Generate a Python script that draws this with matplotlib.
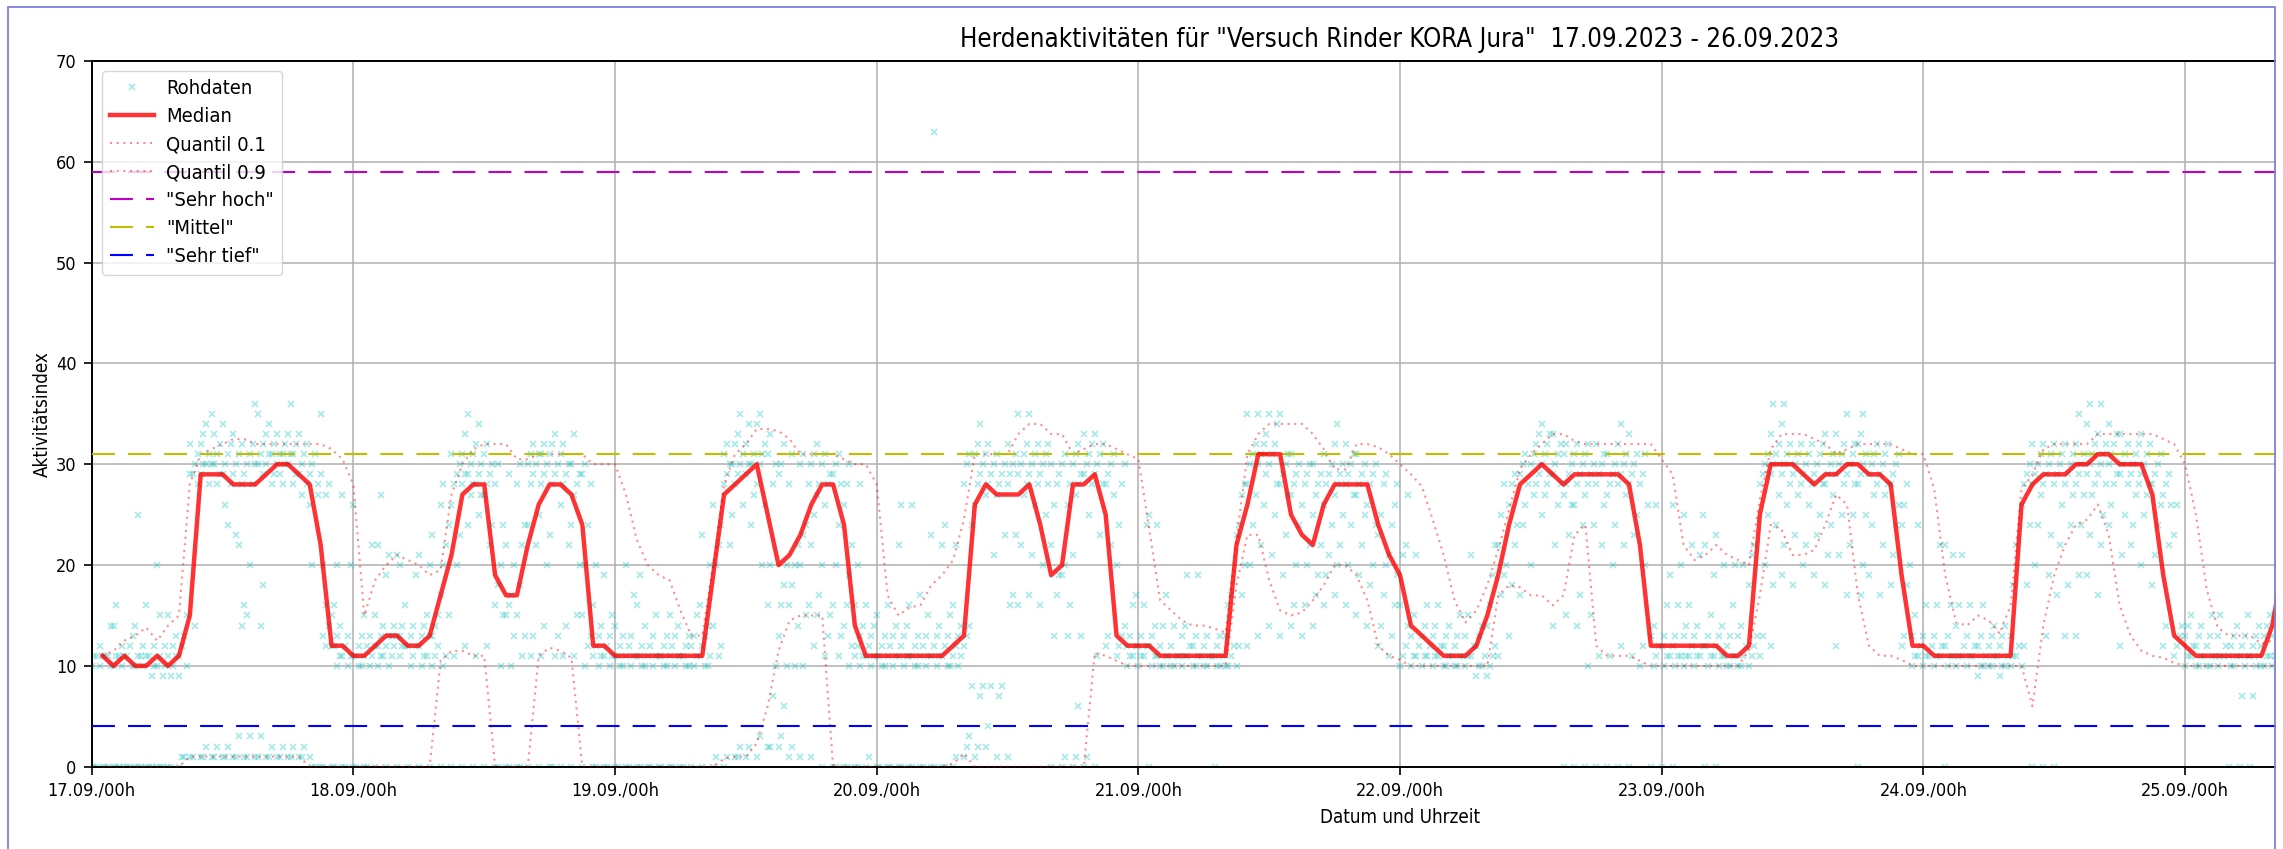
import numpy as np
import pandas as pd
import matplotlib
matplotlib.use("Agg")
import matplotlib.pyplot as plt
import matplotlib.dates as mdates
from matplotlib.patches import Rectangle

plt.rcParams['font.family'] = ['DejaVu Sans']
plt.rcParams['font.stretch'] = 'condensed'
plt.rcParams['font.size'] = 13.5

start = pd.Timestamp('2023-09-17 00:00')
title = 'Herdenaktivitäten für "Versuch Rinder KORA Jura"  17.09.2023 - 26.09.2023'

# hourly values, index = hours since 17.09. 00h
median = [np.nan,
          11, 10, 11, 10, 10, 11, 10, 11, 15, 29,
          29, 29, 28, 28, 28, 29, 30, 30, 29, 28,
          22, 12, 12, 11, 11, 12, 13, 13, 12, 12,
          13, 17, 21, 27, 28, 28, 19, 17, 17, 22,
          26, 28, 28, 27, 24, 12, 12, 11, 11, 11,
          11, 11, 11, 11, 11, 11, 19, 27, 28, 29,
          30, 25, 20, 21, 23, 26, 28, 28, 24, 14,
          11, 11, 11, 11, 11, 11, 11, 11, 12, 13,
          26, 28, 27, 27, 27, 28, 24, 19, 20, 28,
          28, 29, 25, 13, 12, 12, 12, 11, 11, 11,
          11, 11, 11, 11, 22, 26, 31, 31, 31, 25,
          23, 22, 26, 28, 28, 28, 28, 24, 21, 19,
          14, 13, 12, 11, 11, 11, 12, 15, 19, 24,
          28, 29, 30, 29, 28, 29, 29, 29, 29, 29,
          28, 22, 12, 12, 12, 12, 12, 12, 12, 11,
          11, 12, 25, 30, 30, 30, 29, 28, 29, 29,
          30, 30, 29, 29, 28, 19, 12, 12, 11, 11,
          11, 11, 11, 11, 11, 11, 26, 28, 29, 29,
          29, 30, 30, 31, 31, 30, 30, 30, 27, 19,
          13, 12, 11, 11, 11, 11, 11, 11, 11, 14,
          20]

q10 = [np.nan,
       0, 0, 0, 0, 0, 0, 0, 0, 1, 1,
       1, 1, 1, 1, 1, 1, 1, 1, 1, 0,
       0, 0, 0, 0, 0, 0, 0, 0, 0, 0,
       0, 10.5, 11.5, 11.5, 11, 11, 0, 0, 0, 0,
       11, 11.8, 11.5, 10.8, 0, 0, 0, 0, 0, 0,
       0, 0, 0, 0, 0, 0, 0, 0.8, 1, 1,
       2.3, 6, 11.5, 14.5, 15, 15, 15, 0, 0, 0,
       0, 0, 0, 0, 0, 0, 0, 0, 0.3, 1.3,
       0, 0, 0, 0, 0, 0, 0, 0, 0, 0,
       0, 11.3, 11, 10.5, 10, 10, 10, 10, 10, 10,
       10, 10, 10, 10, 18, 23, 23, 18.5, 15.5, 15,
       15.3, 16.5, 18, 20, 20, 19, 16.5, 12, 11, 10.6,
       10, 10, 10, 10, 10, 10, 10, 10, 17, 18,
       17.8, 17, 17, 16, 17, 23, 24, 12, 11, 11,
       11, 10.5, 10, 10, 10, 10, 10, 10, 10, 10,
       10, 11.5, 17, 24, 23.5, 21, 21, 21.5, 24, 27,
       26, 17, 12, 11, 11, 10.6, 10, 10, 10, 10,
       10, 10, 10, 10, 10, 10, 10, 6, 14, 19,
       22, 24, 24.5, 26, 23, 16, 13, 11.5, 11, 10.8,
       10.3, 10, 10, 10, 10, 10, 10, 10, 10, 10,
       10]

q90 = [np.nan,
       11, 11.5, 12.5, 13, 13.8, 12.5, 14, 15, 28, 31,
       31.5, 32, 32.5, 32.5, 32, 32, 32, 32, 32, 32,
       32, 31.5, 30.5, 28, 15, 18.5, 20, 21, 20.5, 20,
       19, 19.5, 27, 30, 31.5, 32, 32, 32, 30.5, 30.5,
       31, 31, 31, 31, 31, 30, 30, 30, 27, 22.5,
       20, 19, 18.5, 15.5, 13, 13, 20, 28, 31, 32,
       33.5, 33.5, 33.3, 32.5, 31, 31, 31, 31, 30.5, 30,
       30, 28, 17, 15, 15.8, 16, 18, 19, 20.5, 24.5,
       31, 31, 31, 31, 33, 34, 34, 33, 33, 31,
       31.5, 32, 32, 31.5, 31, 30.5, 23.5, 16.5, 15.5, 14.5,
       14, 14, 13.7, 13.3, 22.5, 31, 33, 34, 34, 34,
       34, 33, 31.5, 29.5, 29.5, 32, 32, 31.7, 31, 30,
       29, 27.8, 24.5, 21, 16.5, 14.3, 15.5, 18, 21.5, 25.5,
       29.5, 31, 32, 33, 33, 32.3, 32, 32, 32, 32,
       32, 32, 32, 30.5, 29, 22, 20.5, 21, 22, 21,
       20.5, 20, 26.5, 31.5, 33, 33, 33, 32.5, 32, 31,
       31.5, 32, 32, 32, 32, 31.5, 31, 31, 27.5, 19,
       14.3, 14, 15, 14.5, 13.2, 16, 27.5, 29, 31.5, 32,
       32, 32, 32, 33, 33, 33, 33, 33, 33, 32.5,
       32, 30, 25, 17.5, 13.8, 13, 13, 13, 12.2, 12.5,
       13]

# raw readings of the herd, one string per hour
raw = [
    "0 0 0 10 10 11 11 12", "0 0 0 10 11 11 11 14", "0 0 0 10 10 11 11 12 14 16",
    "0 0 0 10 11 11 12 13", "0 0 0 10 10 11 11 12 14 25", "0 0 0 10 11 11 9 12 16",
    "0 0 0 10 10 11 9 12 20 15", "0 0 10 11 11 9 12 13 15", "0 1 1 10 11 12 13 15 9",
    "1 1 14 28 29 29 30 31 32", "1 1 2 28 29 30 30 31 32 33 34", "1 1 2 29 30 30 31 32 35 33 28",
    "1 1 2 28 29 30 31 32 34 26 24", "1 1 3 28 29 30 31 32 33 23 22 14", "1 1 3 28 29 30 31 32 16 15 20",
    "1 1 3 29 30 30 31 32 36 35 14 18", "1 1 2 29 30 31 31 32 33 34 28", "1 1 2 30 30 31 31 32 33 29 28",
    "1 1 2 29 30 31 31 32 33 36 28", "1 1 2 28 29 30 31 32 33 27", "1 0 0 28 29 30 31 27 26 20",
    "0 0 27 28 29 20 16 14 35 13 12", "0 0 10 11 12 12 13 14 15 16 20", "0 0 10 11 11 12 13 20 27",
    "0 0 10 10 11 11 12 13 26", "0 0 10 11 11 12 13 22 15", "0 10 11 11 12 12 13 14 15 22 27",
    "0 10 11 12 12 13 13 14 19 21", "0 11 12 12 13 13 14 16 21 20", "0 10 11 12 12 13 14 19",
    "0 10 11 11 12 13 14 15 21", "0 10 11 12 13 13 14 15 20 23", "0 10 11 15 17 20 22 24 26 28",
    "0 11 20 23 26 28 29 30 31", "0 12 24 27 28 29 29 30 31 33 35", "0 11 25 27 28 28 29 30 31 32 34",
    "0 12 22 24 27 28 29 30 31 32", "0 0 10 15 16 18 20 24 28 30", "0 0 10 13 15 16 17 20 22 29",
    "0 0 11 13 15 18 22 24 28 30",
    "0 11 13 22 24 28 29 30 30 31 32", "0 11 14 20 25 28 29 30 31 31 32", "0 0 11 13 23 28 29 30 31 32 33",
    "0 11 14 22 26 28 29 30 31 32", "0 11 15 20 24 27 28 29 30 33", "0 10 12 13 15 20 24 28 29 30",
    "0 0 10 11 11 12 13 14 16 20", "0 0 10 11 11 12 13 15 19", "0 0 10 10 11 11 12 13 14",
    "0 0 10 11 11 12 13 17 20", "0 0 10 10 11 11 12 14 16 19", "0 0 10 11 11 12 13 15",
    "0 0 10 10 11 11 12 13", "0 0 10 11 11 12 13 14 15", "0 0 10 10 11 11 12 13",
    "0 10 11 11 12 13 15 16", "0 10 10 11 12 13 14 20 23", "0 1 11 12 14 20 22 24 26",
    "0 1 22 25 28 29 30 30 31 32", "1 1 2 26 28 29 30 31 32 33 35", "1 2 24 27 29 30 30 31 32 34",
    "1 3 20 26 28 30 31 32 34 35", "2 2 7 10 16 20 28 30 31 33", "2 3 6 10 13 16 18 20 29 30 32",
    "1 2 10 14 16 18 20 22 28 31", "1 10 15 16 20 23 24 28 30 31", "1 12 15 17 22 25 27 28 30 31 32",
    "0 11 13 15 20 26 28 29 30 31", "0 0 11 13 16 20 24 28 29 30 31", "0 0 10 12 14 16 19 22 26 28 30",
    "0 0 10 11 11 12 13 14 16 20 28", "0 1 10 11 11 12 13 14 16", "0 0 10 10 11 11 12 13 15",
    "0 0 10 11 11 12 13 14 16", "0 0 10 11 11 12 13 14 22 26", "0 0 10 10 11 11 12 13 16 26",
    "0 0 10 11 11 12 13 15 17", "0 0 10 11 11 12 13 14 23 63", "0 0 10 10 11 12 13 15 22 24",
    "0 1 10 11 11 12 13 14 16 22",
    "1 2 3 8 12 13 14 24 28 30 31", "1 2 7 8 26 28 29 30 31 32 34", "2 4 8 21 27 28 29 30 31 32",
    "1 7 8 23 27 28 29 30 31", "1 16 17 23 28 29 30 31 32", "16 22 27 28 29 30 31 32 35",
    "17 21 26 28 29 30 31 32 35", "16 20 25 28 29 30 31 32", "0 13 17 19 22 26 28 29 30",
    "0 1 13 16 19 20 26 28 30 31", "0 1 6 13 21 27 28 29 30 31 32", "0 1 25 28 29 30 31 32 33",
    "0 11 23 28 29 30 31 32 33", "12 13 22 27 28 29 30 31", "11 12 13 14 20 24 28 30",
    "10 11 11 12 12 13 16 17", "10 11 11 12 12 13 16 24", "0 10 11 11 12 13 14 24 25",
    "10 10 11 11 12 14 17", "10 10 11 11 12 14", "10 11 11 12 13 14 19",
    "10 10 11 11 12 13 19", "10 10 11 11 12 13", "0 10 10 11 11 12 13",
    "10 10 11 12 13 16 17", "10 12 17 20 23 24 27 28", "12 20 24 27 28 30 31 32 35",
    "13 22 26 29 30 31 32 33 35", "14 21 25 28 30 31 32 34 35", "13 19 23 27 28 29 30 31 35",
    "14 16 20 24 27 28 29 30 31", "13 16 20 22 26 28 29 30", "14 17 19 22 25 27 28 29 30",
    "16 19 21 24 26 28 29 30 31", "17 20 22 25 27 28 29 30 32 34", "16 20 24 27 28 29 30 31 32",
    "15 19 22 25 27 28 29 30 31", "14 18 20 24 26 28 29 30", "12 14 17 20 23 25 28 29",
    "11 13 16 19 21 24 26 28",
    "10 11 12 14 16 21 22 27", "10 11 11 12 13 15 21", "10 11 11 12 13 14 16",
    "10 11 11 12 13 14 16", "10 10 11 11 12 13 14", "10 10 11 11 12 13 15",
    "10 11 11 12 13 15 21", "9 10 10 11 12 13 14", "9 10 11 12 14 16 19 22",
    "11 17 19 20 22 25 28", "13 18 22 24 26 28 29", "17 24 26 28 29 30 31",
    "20 27 28 29 30 31 32 33", "25 27 28 29 30 31 32 33 34", "14 22 26 28 29 30 31 32 33",
    "0 15 23 26 27 28 29 30 31 32", "0 14 17 24 26 28 29 30 31 32", "0 10 15 24 27 28 29 30 31 32",
    "0 11 22 26 28 29 30 31 32", "0 11 20 24 27 28 29 30 31", "0 12 22 27 28 29 30 31 32 34",
    "0 11 23 25 28 29 30 31 33", "10 12 20 26 28 29 31", "0 10 11 12 13 14 26",
    "0 10 11 11 12 13 16 19", "0 10 11 11 12 13 16 20 26", "10 11 11 12 13 14 16 22 25",
    "10 11 11 12 13 14 21 25", "0 10 11 11 12 13 15 19 22", "0 10 11 11 12 13 14 20 23",
    "10 10 11 11 12 13 16 20", "10 10 11 12 13 14 20", "10 11 12 13 18 21 22",
    "11 13 20 25 28 29 30 31", "12 18 24 27 29 30 31 32 33 36", "19 22 26 28 29 30 31 32 34 36",
    "18 23 27 28 29 30 31 32", "20 22 26 28 29 30 31 32", "19 23 25 28 29 30 31 32",
    "18 21 24 27 28 29 30 31 33",
    "12 21 25 28 29 30 31 32 33", "17 22 25 28 29 30 31 32 35", "0 17 20 25 28 29 30 31 32 33 35",
    "19 24 27 28 29 30 31 32", "17 22 27 28 29 30 31 32", "18 21 24 26 28 29 30 31",
    "12 13 18 20 24 26 28", "10 11 11 12 13 15 24", "10 11 11 12 13 16",
    "10 11 11 12 13 16 22", "0 10 11 11 12 13 16 21 22", "10 11 11 12 14 16 21",
    "10 11 11 12 13 16", "9 10 10 11 12 13 16", "10 10 11 11 12 13 14",
    "9 10 10 11 12 13 14", "10 11 11 12 13 18 22", "10 12 18 24 26 28 29 30",
    "0 20 24 27 28 29 30 31 32", "0 13 19 23 28 29 30 31 32", "0 17 22 26 28 29 30 31 32",
    "13 18 24 27 28 29 30 31 32", "13 19 24 27 28 29 30 31 32 35", "19 23 27 28 29 30 31 32 34 36",
    "17 22 25 28 29 30 31 32 33 36", "24 26 28 29 30 31 32 33 34", "12 21 25 28 29 30 31 32 33",
    "22 24 27 28 29 30 31 32", "20 25 27 28 29 30 31 32 33", "18 21 24 26 28 29 30 31",
    "12 14 22 26 27 28 29", "11 12 13 14 23 26", "10 11 11 12 13 14 15",
    "10 10 11 11 12 13 14", "10 10 11 11 12 13 15", "10 11 11 12 13 15",
    "0 10 10 11 11 12 13 14", "0 7 10 11 11 12 13 15", "0 7 10 11 11 12 13 14",
    "10 10 11 11 12 13 14 15", "10 11 11 12 13 15 20",
]

levels = ['"Sehr hoch"', '"Mittel"', '"Sehr tief"']
level_values = [59, 31, 4]
level_colors = ['m', 'y', 'b']

hours = np.arange(len(median))
times = start + pd.to_timedelta(hours, unit='h')

raw_t = []
raw_v = []
for h, s in enumerate(raw):
    for j, v in enumerate(s.split()):
        raw_t.append(start + pd.Timedelta(hours=h + (j % 4) / 4))
        raw_v.append(float(v))

W, H = 2283, 849
fig = plt.figure(figsize=(W / 100, H / 100), dpi=100)
# axes goes up to 27.09., the right part is cut off like in the screenshot
ax = fig.add_axes([91.7 / W, 82.3 / H, 2616.7 / W, 705.7 / H])

ax.plot(raw_t, raw_v, 'x', color='c', alpha=0.35, ms=5, mew=1.2, label='Rohdaten', zorder=2)
ax.plot(times, median, color='red', alpha=0.8, lw=3.2, label='Median', zorder=4)
ax.plot(times, q10, color='red', alpha=0.45, lw=1.5, ls=(0, (1, 2.2)), label='Quantil 0.1', zorder=3)
ax.plot(times, q90, color='red', alpha=0.45, lw=1.5, ls=(0, (1, 2.2)), label='Quantil 0.9', zorder=3)
for name, val, col in zip(levels, level_values, level_colors):
    ax.axhline(val, color=col, lw=1.5, ls=(0, (11, 6.3)), label=name, zorder=3)

ax.set_xlim(start, start + pd.Timedelta(days=10))
ax.set_ylim(0, 70)
ax.set_yticks(range(0, 71, 10))
# only the days that are visible in the cut screenshot
ax.set_xticks(pd.date_range(start, periods=9, freq='D'))
ax.xaxis.set_major_formatter(mdates.DateFormatter('%d.%m./%Hh'))
ax.grid(True, color='#b0b0b0', lw=1.1)
ax.set_axisbelow(True)
for sp in ax.spines.values():
    sp.set_linewidth(1.4)
ax.tick_params(length=6, width=1.2, pad=5, labelsize=13)

ax.set_title(title, fontsize=18.5, pad=10)
ax.set_xlabel('Datum und Uhrzeit', fontsize=13.5, labelpad=6)
ax.set_ylabel('Aktivitätsindex', fontsize=13.5, labelpad=3)
ax.legend(loc='upper left', fontsize=14.5, labelspacing=0.45, handlelength=2.2,
          handletextpad=0.6, borderaxespad=0.5)

# screenshot frame
fig.patches.append(Rectangle((2276 / W, 0), 1, 1, transform=fig.transFigure,
                             facecolor='white', edgecolor='none', zorder=10))
fig.patches.append(Rectangle((8 / W, -4 / H), 2267 / W, (H - 3) / H, transform=fig.transFigure,
                             facecolor='none', edgecolor='#7f7fdc', lw=1.3, zorder=11))

fig.savefig('out.png', dpi=100)
